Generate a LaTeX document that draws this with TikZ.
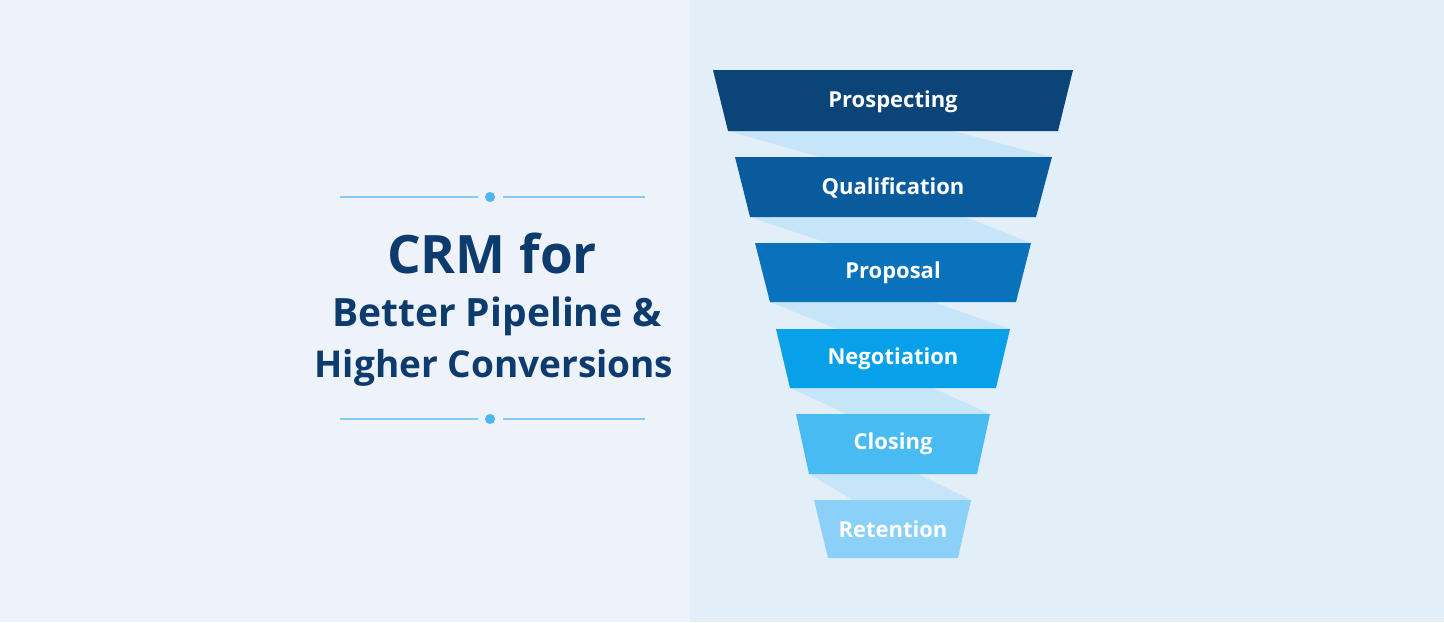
\documentclass[tikz,border=0pt]{standalone}
\usepackage{fontspec}
\setmainfont{Open Sans}
\definecolor{bgL}{HTML}{EEF3F9}
\definecolor{bgR}{HTML}{E2EEF8}
\definecolor{titlec}{HTML}{0D3B6E}
\definecolor{divline}{HTML}{86CBF3}
\definecolor{divdot}{HTML}{4DB6F3}
\definecolor{ribbon}{HTML}{C4E5FA}
\definecolor{c1}{HTML}{0B4478}
\definecolor{c2}{HTML}{0A5B9E}
\definecolor{c3}{HTML}{0872BD}
\definecolor{c4}{HTML}{08A0E8}
\definecolor{c5}{HTML}{48BBF2}
\definecolor{c6}{HTML}{8BD0F7}
\tikzset{
  bandlabel/.style={text=white,font=\fontsize{22}{26}\selectfont\bfseries,inner sep=0pt},
  titleline/.style={draw=divline,line width=1.4pt},
  titletext/.style={text=titlec,font=\bfseries,inner sep=0pt,anchor=base},
  ribbonfill/.style={fill=ribbon,fill opacity=0.9}
}
\begin{document}
\begin{tikzpicture}[x=1pt,y=-1pt]
\useasboundingbox (0,0) rectangle (1444,622);
\fill[bgL] (0,0) rectangle (690,622);
\fill[bgR] (690,0) rectangle (1444,622);
% dividers
\coordinate (d1a) at (340,197); \coordinate (d1b) at (478,197);
\coordinate (d1c) at (503,197); \coordinate (d1d) at (645,197);
\draw[titleline] (d1a) -- (d1b); \draw[titleline] (d1c) -- (d1d);
\node[circle,fill=divdot,inner sep=0pt,minimum size=10pt] (dot1) at (490,197) {};
\coordinate (d2a) at (340,419); \coordinate (d2b) at (478,419);
\coordinate (d2c) at (503,419); \coordinate (d2d) at (645,419);
\draw[titleline] (d2a) -- (d2b); \draw[titleline] (d2c) -- (d2d);
\node[circle,fill=divdot,inner sep=0pt,minimum size=10pt] (dot2) at (490,419) {};
% title
\node[titletext,font=\fontsize{53}{56}\selectfont\bfseries] (t1) at (492,273) {CRM for};
\node[titletext,font=\fontsize{39}{42}\selectfont\bfseries] (t2) at (497,326) {Better Pipeline \&};
\node[titletext,font=\fontsize{37}{40}\selectfont\bfseries] (t3) at (494,377) {Higher Conversions};
% ribbons
\fill[ribbonfill] (728,131) -- (953,131) -- (1052,157) -- (820,157) -- cycle;
\fill[ribbonfill] (750,217) -- (965,217) -- (1031,243) -- (828,243) -- cycle;
\fill[ribbonfill] (770,302) -- (933,302) -- (1010,329) -- (837,329) -- cycle;
\fill[ribbonfill] (790,388) -- (933,388) -- (990,414) -- (847,414) -- cycle;
\fill[ribbonfill] (809,474) -- (918,474) -- (971,500) -- (853,500) -- cycle;
% bands
\fill[c1] (713,70) -- (1073,70) -- (1058,131) -- (728,131) -- cycle;
\node[bandlabel] (b1) at (893,102) {Prospecting};
\fill[c2] (735,157) -- (1052,157) -- (1036,217) -- (750,217) -- cycle;
\node[bandlabel] (b2) at (893,188) {Qualification};
\fill[c3] (755,243) -- (1031,243) -- (1016,302) -- (770,302) -- cycle;
\node[bandlabel] (b3) at (893,273) {Proposal};
\fill[c4] (776,329) -- (1010,329) -- (996,388) -- (790,388) -- cycle;
\node[bandlabel] (b4) at (893,359) {Negotiation};
\fill[c5] (796,414) -- (990,414) -- (977,474) -- (809,474) -- cycle;
\node[bandlabel] (b5) at (893,444) {Closing};
\fill[c6] (814,500) -- (971,500) -- (958,558) -- (828,558) -- cycle;
\node[bandlabel] (b6) at (893,529) {Retention};
\end{tikzpicture}
\end{document}
